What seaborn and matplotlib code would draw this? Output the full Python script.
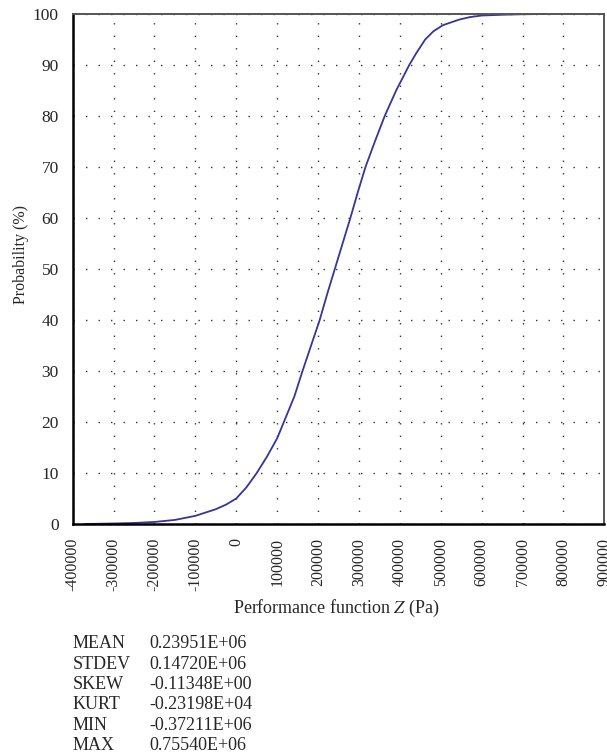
import matplotlib
matplotlib.use("Agg")
import matplotlib.pyplot as plt
import seaborn as sns
import pandas as pd

# cumulative distribution of Z
z_values = [-372110, -300000, -250000, -200000, -150000, -100000, -50000, -25000, 0,
            25000, 50000, 75000, 100000, 142000, 162000, 183000, 204000, 222000, 241000,
            260000, 279000, 297000, 316000, 339000, 363000, 391000, 423000, 440000,
            462000, 482000, 505000, 545000, 572000, 600000, 650000, 700000, 755400]
prob = [0, 0.1, 0.2, 0.4, 0.8, 1.6, 2.9, 3.8, 5.0,
        7.2, 10.0, 13.2, 16.8, 25, 30, 35, 40, 45, 50,
        55, 60, 65, 70, 75, 80, 85, 90, 92.3,
        95, 96.6, 97.8, 98.9, 99.4, 99.7, 99.85, 99.95, 100]

x_ticks = list(range(-400000, 900001, 100000))
x_ticklabels = [str(t) for t in x_ticks]
y_ticks = list(range(0, 101, 10))

stat_names = ['MEAN', 'STDEV', 'SKEW', 'KURT', 'MIN', 'MAX']
stat_values = ['0.23951E+06', '0.14720E+06', '-0.11348E+00',
               '-0.23198E+04', '-0.37211E+06', '0.75540E+06']

sns.set_style('white')
plt.rcParams['font.family'] = ['Liberation Serif', 'DejaVu Serif']
plt.rcParams['mathtext.fontset'] = 'stix'

df = pd.DataFrame({'z': z_values, 'p': prob})

W, H = 607, 756
fig = plt.figure(figsize=(W / 100, H / 100), dpi=100)
ax = fig.add_axes([72.7 / W, 1 - 524 / H, (604.3 - 72.7) / W, (524 - 14) / H])

sns.lineplot(data=df, x='z', y='p', color='#35359c', linewidth=1.3, ax=ax)

ax.set_xlim(-400000, 900000)
ax.set_ylim(0, 100)
ax.set_xticks(x_ticks)
ax.set_xticklabels(x_ticklabels, rotation=90, fontsize=11.5)
ax.set_yticks(y_ticks)
ax.set_yticklabels([str(t) for t in y_ticks], fontsize=12.5)
ax.tick_params(axis='both', direction='out', length=4, width=1.4, color='black', pad=6)

ax.grid(True, color='#333333', linestyle=(0, (1, 8)), linewidth=1)
ax.set_axisbelow(True)

for side in ['left', 'bottom']:
    ax.spines[side].set_color('black')
    ax.spines[side].set_linewidth(1.8)
for side in ['top', 'right']:
    ax.spines[side].set_color('#555555')
    ax.spines[side].set_linewidth(1.4)

ax.set_xlabel('')
ax.set_ylabel('')
fig.text(336 / W, 1 - 608 / H, 'Performance function $Z$ (Pa)', ha='center', va='center', fontsize=13)
fig.text(21 / W, 1 - 255 / H, 'Probability (%)', ha='center', va='center', rotation=90, fontsize=11.5)

for i, (name, val) in enumerate(zip(stat_names, stat_values)):
    y = 1 - (644 + i * 20.3) / H
    fig.text(73 / W, y, name, ha='left', va='center', fontsize=13)
    fig.text(149 / W, y, val, ha='left', va='center', fontsize=13)

fig.savefig('out.png', dpi=100)
